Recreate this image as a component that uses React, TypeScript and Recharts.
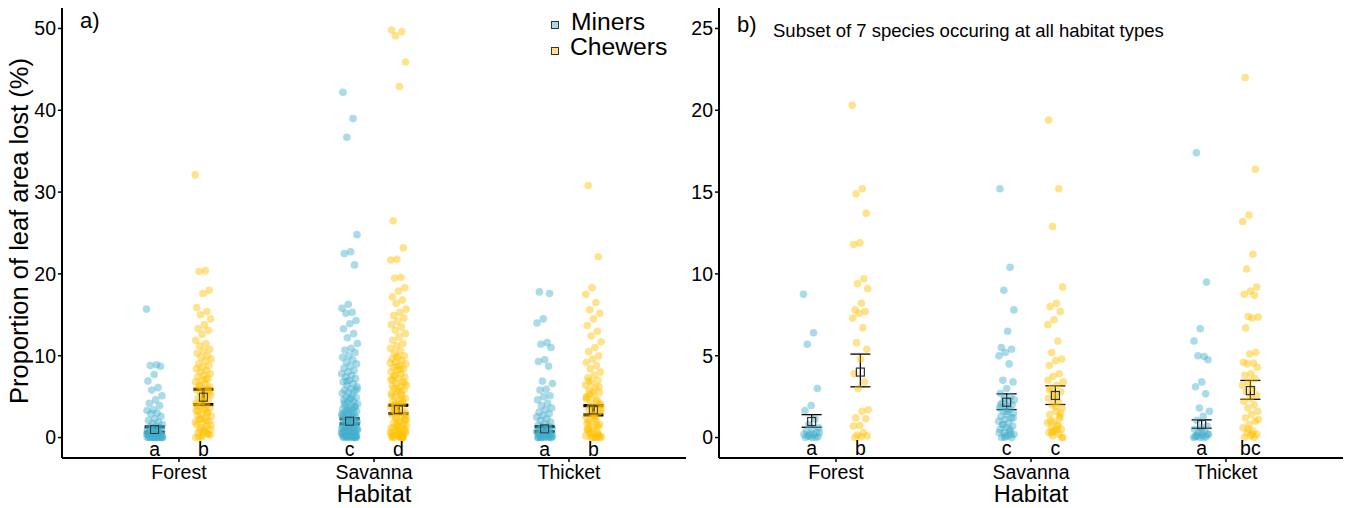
import React from 'react'
import { ScatterChart, Scatter, XAxis, YAxis, ErrorBar } from 'recharts'

const HABITATS = ['Forest', 'Savanna', 'Thicket']
const MINER = '#45b0cc'
const CHEWER = '#ffc000'
const FONT = '"Liberation Sans", Arial, sans-serif'

// ---- panel a: all species ----
const aForestMiners = [15.7, 8.9, 8.8, 8.7, 7.7, 6.9, 6.1, 5.8, 5.1, 4.6, 4.2, 3.9, 3.4, 3.3, 3.0, 2.9, 2.6, 2.3, 2.1, 1.9, 1.7, 1.6, 1.4, 1.3, 1.2, 1.1, 1.0, 0.9, 0.85, 0.8, 0.7, 0.65, 0.6, 0.55, 0.5, 0.45, 0.4, 0.35, 0.3, 0.3, 0.25, 0.2, 0.2, 0.15, 0.1, 0.1, 0.05, 0.05, 0, 0, 0, 0, 0, 0, 0, 0, 0.1, 0.2, 0.3, 0.4, 0.5, 0.7, 0.9, 0, 0]
const aForestChewers = [32.1, 20.4, 20.3, 18.0, 17.6, 15.9, 15.4, 15.0, 14.5, 13.8, 13.3, 13.1, 12.6, 11.9, 11.5, 11.2, 10.8, 10.6, 10.3, 10.0, 9.8, 9.6, 9.3, 9.0, 8.8, 8.6, 8.4, 8.2, 8.0, 7.8, 7.6, 7.4, 7.2, 7.0, 6.8, 6.6, 6.4, 6.2, 6.0, 5.8, 5.6, 5.4, 5.2, 5.0, 4.8, 4.6, 4.4, 4.2, 4.0, 3.8, 3.6, 3.4, 3.2, 3.0, 2.8, 2.6, 2.4, 2.2, 2.0, 1.8, 1.6, 1.4, 1.2, 1.0, 0.8, 0.6, 0.4, 0.2, 0.0, 7.1, 6.3, 5.5, 4.7, 3.9, 3.1, 2.3, 1.5, 0.7, 0.1, 5.9, 4.5, 3.3, 2.1, 0.9, 0.3, 1.1, 2.7, 0.5, 0.0, 1.9, 3.5]
const aSavannaMiners = [42.2, 39.0, 36.7, 24.8, 22.7, 22.5, 21.1, 16.3, 15.8, 15.3, 15.2, 14.3, 13.9, 13.3, 12.7, 12.2, 11.5, 10.9, 10.7, 10.4, 10.0, 9.8, 9.5, 9.2, 9.0, 8.7, 8.5, 8.2, 8.0, 7.8, 7.6, 7.4, 7.2, 7.0, 6.8, 6.6, 6.4, 6.2, 6.0, 5.8, 5.7, 5.5, 5.4, 5.2, 5.0, 4.9, 4.7, 4.6, 4.4, 4.3, 4.1, 4.0, 3.9, 3.8, 3.6, 3.5, 3.4, 3.3, 3.2, 3.1, 3.0, 2.9, 2.8, 2.7, 2.6, 2.5, 2.4, 2.3, 2.2, 2.1, 2.0, 1.9, 1.8, 1.7, 1.6, 1.5, 1.4, 1.3, 1.2, 1.1, 1.0, 0.9, 0.8, 0.7, 0.6, 0.5, 0.4, 0.3, 0.2, 0.1, 0.0, 6.9, 5.9, 4.8, 4.2, 3.7, 3.3, 2.9, 2.6, 2.3, 2.0, 1.8, 1.6, 1.4, 1.2, 1.0, 0.9, 0.8, 0.7, 0.6, 0.5, 0.4, 0.3, 0.2, 0.1, 0.0, 0.0, 1.5, 1.1, 0.7, 0.3, 0.1, 0.0, 2.5, 1.9, 1.3, 0.9, 0.5, 0.2, 0.0, 0.6, 0.4, 0.2, 0.1, 0.0, 1.7, 0.8, 0.3, 0.0]
const aSavannaChewers = [49.8, 49.6, 49.1, 45.9, 42.9, 26.5, 23.2, 21.8, 21.7, 19.6, 19.5, 18.3, 17.9, 17.2, 16.8, 16.4, 15.7, 15.3, 14.9, 14.6, 14.2, 13.8, 13.5, 13.1, 12.7, 12.3, 11.9, 11.5, 11.2, 10.9, 10.6, 10.3, 10.0, 9.8, 9.6, 9.4, 9.2, 9.0, 8.8, 8.6, 8.4, 8.2, 8.0, 7.8, 7.6, 7.4, 7.2, 7.0, 6.8, 6.6, 6.4, 6.2, 6.0, 5.8, 5.6, 5.4, 5.2, 5.0, 4.8, 4.6, 4.4, 4.2, 4.0, 3.8, 3.6, 3.4, 3.2, 3.0, 2.8, 2.6, 2.4, 2.2, 2.0, 1.8, 1.6, 1.4, 1.2, 1.0, 0.8, 0.6, 0.4, 0.2, 0.0, 9.9, 9.1, 8.3, 7.5, 6.7, 5.9, 5.1, 4.3, 3.5, 2.7, 1.9, 1.1, 0.3, 8.7, 7.1, 5.5, 3.9, 2.3, 0.7, 6.3, 4.7, 3.1, 1.5, 0.1, 0.0, 2.9, 1.3, 0.5, 0.0, 4.1, 2.1, 0.9, 0.2, 0.0, 1.7, 0.6, 0.0, 3.3, 1.0, 0.4, 0.0, 0.0, 2.5, 0.8, 0.1]
const aThicketMiners = [17.8, 17.6, 14.5, 14.0, 11.6, 11.4, 11.0, 9.5, 9.3, 8.7, 6.9, 6.6, 5.9, 5.8, 5.1, 5.0, 4.6, 4.2, 3.9, 3.6, 3.4, 3.1, 2.9, 2.7, 2.5, 2.3, 2.1, 1.9, 1.7, 1.5, 1.4, 1.3, 1.2, 1.1, 1.0, 0.9, 0.8, 0.7, 0.6, 0.5, 0.45, 0.4, 0.35, 0.3, 0.25, 0.2, 0.15, 0.1, 0.05, 0, 0, 0, 0, 0, 0.1, 0.2, 0.3, 0.5, 0.7, 1.0, 0, 0.1, 0.3, 0, 0.6, 0.2]
const aThicketChewers = [30.8, 22.1, 18.3, 17.5, 16.5, 15.6, 15.2, 14.5, 13.7, 13.0, 12.4, 11.7, 11.0, 10.5, 10.0, 9.6, 9.2, 8.8, 8.4, 8.0, 7.6, 7.3, 7.0, 6.7, 6.4, 6.1, 5.8, 5.5, 5.2, 4.9, 4.6, 4.3, 4.0, 3.7, 3.4, 3.1, 2.8, 2.5, 2.2, 1.9, 1.6, 1.3, 1.0, 0.7, 0.4, 0.1, 0.0, 6.9, 6.2, 5.6, 5.0, 4.4, 3.8, 3.2, 2.6, 2.0, 1.4, 0.8, 0.2, 0.0, 5.3, 4.1, 2.9, 1.7, 0.5, 0.0, 3.5, 2.3, 1.1, 0.3, 0.0, 4.7, 1.5, 0.6, 0.0, 2.7, 0.9, 0.1]

const aMinerMean = [0.98, 2.0, 1.06]
const aMinerLo = [0.65, 1.67, 0.73]
const aMinerHi = [1.3, 2.3, 1.34]
const aChewerMean = [4.93, 3.42, 3.38]
const aChewerLo = [4.03, 2.93, 2.77]
const aChewerHi = [5.9, 3.95, 3.9]
const aMinerLetters = ['a', 'c', 'a']
const aChewerLetters = ['b', 'd', 'b']

// ---- panel b: subset of 7 species ----
const bForestMiners = [8.75, 6.4, 5.7, 3.0, 1.96, 1.65, 1.14, 0.8, 0.6, 0.5, 0.4, 0.3, 0.25, 0.2, 0.15, 0.1, 0.05, 0, 0, 0, 0.1, 0.3]
const bForestChewers = [20.3, 15.2, 14.9, 13.7, 11.9, 11.8, 9.7, 9.4, 9.1, 8.2, 7.8, 7.7, 7.6, 7.3, 6.7, 5.8, 5.4, 4.8, 3.9, 3.4, 3.0, 1.7, 1.6, 1.2, 1.15, 0.73, 0.7, 0.3, 0.16, 0.1, 0.03, 0]
const bSavannaMiners = [15.2, 10.4, 9.0, 7.8, 6.5, 5.5, 5.4, 5.2, 5.0, 4.5, 3.5, 3.4, 3.0, 2.7, 2.5, 2.4, 2.3, 2.2, 2.1, 2.0, 1.9, 1.8, 1.7, 1.6, 1.5, 1.4, 1.3, 1.2, 1.1, 1.0, 0.9, 0.8, 0.7, 0.6, 0.5, 0.4, 0.3, 0.2, 0.1, 0, 0, 0.1, 0.3, 0.5, 0.8, 1.2, 1.6, 2.0, 0.2, 0]
const bSavannaChewers = [19.4, 15.2, 12.9, 9.2, 8.2, 8.0, 7.7, 7.2, 6.9, 5.9, 5.2, 4.8, 4.7, 4.4, 3.9, 3.75, 3.4, 3.2, 3.0, 2.8, 2.6, 2.4, 2.2, 2.0, 1.8, 1.6, 1.4, 1.2, 1.0, 0.9, 0.8, 0.6, 0.5, 0.4, 0.3, 0.2, 0.1, 0, 0.5, 1.0, 1.5, 2.5, 3.5, 0.7, 0.3, 0, 1.9, 2.9, 1.3, 0.4]
const bThicketMiners = [17.4, 9.5, 6.65, 5.9, 4.95, 5.0, 4.75, 3.4, 3.1, 2.67, 1.8, 1.6, 1.3, 1.04, 0.7, 0.6, 0.5, 0.4, 0.3, 0.2, 0.15, 0.1, 0.05, 0, 0, 0, 0.1, 0.2, 0.3, 0.05]
const bThicketChewers = [22.0, 16.4, 13.6, 13.2, 11.2, 10.3, 9.2, 8.95, 8.75, 8.7, 7.4, 7.36, 7.3, 6.7, 5.2, 5.1, 4.6, 4.55, 4.5, 4.3, 3.9, 3.8, 3.6, 3.4, 3.2, 3.0, 2.8, 2.6, 2.4, 2.2, 2.0, 1.8, 1.6, 1.4, 1.2, 1.0, 0.8, 0.6, 0.4, 0.3, 0.2, 0.1, 0, 0, 0.5, 1.1, 0.2]

const bMinerMean = [0.98, 2.16, 0.8]
const bMinerLo = [0.63, 1.71, 0.57]
const bMinerHi = [1.4, 2.67, 1.08]
const bChewerMean = [4.0, 2.57, 2.87]
const bChewerLo = [3.1, 2.02, 2.34]
const bChewerHi = [5.1, 3.16, 3.49]
const bMinerLetters = ['a', 'c', 'a']
const bChewerLetters = ['b', 'c', 'bc']

const DODGE = 0.125
const JIT = 0.042
// deterministic spread within a column (golden-ratio sequence)
const jitter = (i: number) => (((i * 0.618034) % 1) - 0.5) * 2 * JIT

const toPoints = (groups: number[][], side: number) =>
  groups.flatMap((vals, h) =>
    vals.map((y, i) => ({ x: h + 1 + side * DODGE + jitter(i + h * 5), y }))
  )

const toMeans = (mean: number[], lo: number[], hi: number[], side: number) =>
  mean.map((m, h) => ({ x: h + 1 + side * DODGE, y: m, err: [m - lo[h], hi[h] - m] }))

const toLetters = (letters: string[], side: number, y: number) =>
  letters.map((label, h) => ({ x: h + 1 + side * DODGE, y, label }))

const dot = (color: string) => (p: any) => (
  <circle cx={p.cx} cy={p.cy} r={3.8} fill={color} fillOpacity={0.45} />
)

const meanSquare = (sw: number) => (p: any) => (
  <rect x={p.cx - 4} y={p.cy - 4} width={8} height={8} fill="none" stroke="#333" strokeWidth={sw} />
)

const letterShape = (p: any) => (
  <text x={p.cx} y={p.cy} textAnchor="middle" dominantBaseline="central" fontSize={19.5} fill="#000" fontFamily={FONT}>
    {p.payload.label}
  </text>
)

function Panel(props: {
  width: number
  yWidth: number
  right: number
  domain: [number, number]
  ticks: number[]
  miners: number[][]
  chewers: number[][]
  minerMeans: any[]
  chewerMeans: any[]
  minerLetters: any[]
  chewerLetters: any[]
  barWidth: number
  squareWidth: number
}) {
  return (
    <ScatterChart
      width={props.width}
      height={508}
      margin={{ top: 8, right: props.right, bottom: 0, left: 0 }}
      style={{ fontFamily: FONT }}
    >
      <XAxis
        type="number"
        dataKey="x"
        domain={[0.4, 3.6]}
        ticks={[1, 2, 3]}
        allowDataOverflow
        tickFormatter={(v) => HABITATS[v - 1]}
        height={50}
        axisLine={{ stroke: '#000', strokeWidth: 2 }}
        tickLine={{ stroke: '#000', strokeWidth: 1.5 }}
        tickSize={4}
        tickMargin={3}
        tick={{ fill: '#000', fontSize: 19.5 }}
        label={{ value: 'Habitat', position: 'insideBottom', offset: 6, fontSize: 23.5, fill: '#000' }}
      />
      <YAxis
        type="number"
        dataKey="y"
        domain={props.domain}
        ticks={props.ticks}
        allowDataOverflow
        width={props.yWidth}
        axisLine={{ stroke: '#000', strokeWidth: 2 }}
        tickLine={{ stroke: '#000', strokeWidth: 1.5 }}
        tickSize={4}
        tickMargin={2}
        tick={{ fill: '#000', fontSize: 19.5 }}
      />
      <Scatter data={toPoints(props.miners, -1)} shape={dot(MINER)} isAnimationActive={false} />
      <Scatter data={toPoints(props.chewers, 1)} shape={dot(CHEWER)} isAnimationActive={false} />
      <Scatter data={props.minerMeans} shape={meanSquare(props.squareWidth)} isAnimationActive={false}>
        <ErrorBar dataKey="err" direction="y" width={10} strokeWidth={props.barWidth} stroke="#000" isAnimationActive={false} />
      </Scatter>
      <Scatter data={props.chewerMeans} shape={meanSquare(props.squareWidth)} isAnimationActive={false}>
        <ErrorBar dataKey="err" direction="y" width={10} strokeWidth={props.barWidth} stroke="#000" isAnimationActive={false} />
      </Scatter>
      <Scatter data={props.minerLetters} shape={letterShape} isAnimationActive={false} />
      <Scatter data={props.chewerLetters} shape={letterShape} isAnimationActive={false} />
    </ScatterChart>
  )
}

const abs = (s: React.CSSProperties): React.CSSProperties => ({
  position: 'absolute',
  whiteSpace: 'nowrap',
  lineHeight: 1,
  color: '#000',
  ...s,
})

export default function App() {
  return (
    <div style={{ position: 'absolute', left: 0, top: 0, width: 1346, height: 508, background: '#fff', fontFamily: FONT }}>
      <div style={{ display: 'flex' }}>
        <Panel
          width={686}
          yWidth={62}
          right={0}
          domain={[-2.5, 52.5]}
          ticks={[0, 10, 20, 30, 40, 50]}
          miners={[aForestMiners, aSavannaMiners, aThicketMiners]}
          chewers={[aForestChewers, aSavannaChewers, aThicketChewers]}
          minerMeans={toMeans(aMinerMean, aMinerLo, aMinerHi, -1)}
          chewerMeans={toMeans(aChewerMean, aChewerLo, aChewerHi, 1)}
          minerLetters={toLetters(aMinerLetters, -1, -1.4)}
          chewerLetters={toLetters(aChewerLetters, 1, -1.4)}
          barWidth={3.2}
          squareWidth={1}
        />
        <Panel
          width={660}
          yWidth={33}
          right={3}
          domain={[-1.25, 26.25]}
          ticks={[0, 5, 10, 15, 20, 25]}
          miners={[bForestMiners, bSavannaMiners, bThicketMiners]}
          chewers={[bForestChewers, bSavannaChewers, bThicketChewers]}
          minerMeans={toMeans(bMinerMean, bMinerLo, bMinerHi, -1)}
          chewerMeans={toMeans(bChewerMean, bChewerLo, bChewerHi, 1)}
          minerLetters={toLetters(bMinerLetters, -1, -0.64)}
          chewerLetters={toLetters(bChewerLetters, 1, -0.64)}
          barWidth={1.3}
          squareWidth={1.2}
        />
      </div>

      <div style={abs({ left: 20, top: 231, fontSize: 25.5, transform: 'translate(-50%, -50%) rotate(-90deg)' })}>
        Proportion of leaf area lost (%)
      </div>
      <div style={abs({ left: 80, top: 10, fontSize: 22 })}>a)</div>
      <div style={abs({ left: 737, top: 14, fontSize: 22 })}>b)</div>
      <div style={abs({ left: 773, top: 21.5, fontSize: 18.5 })}>Subset of 7 species occuring at all habitat types</div>

      <div style={abs({ left: 551, top: 20.5, width: 8, height: 8, border: '1px solid #333', background: '#a9d9e7', boxSizing: 'border-box' })} />
      <div style={abs({ left: 571, top: 9.8, fontSize: 24.7 })}>Miners</div>
      <div style={abs({ left: 551, top: 46.5, width: 8, height: 8, border: '1px solid #333', background: '#ffe28c', boxSizing: 'border-box' })} />
      <div style={abs({ left: 570, top: 35, fontSize: 24.7 })}>Chewers</div>
    </div>
  )
}
